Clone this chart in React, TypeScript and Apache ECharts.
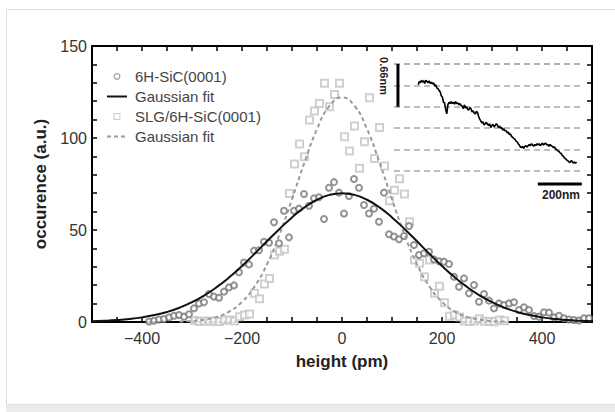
import React, { useEffect, useRef } from "react";
import * as echarts from "echarts";

const FONT = "'Liberation Sans', Arial, Helvetica, sans-serif";

// 6H-SiC(0001) histogram (height pm, occurrence)
const circleData: number[][] = [
  [-386, 0.3], [-376, 0.7], [-366, 1.4], [-356, 1.6], [-346, 2.5], [-336, 3.4], [-326, 3.8], [-316, 2.9],
  [-306, 4.2], [-296, 7.4], [-286, 10.1], [-276, 10.7], [-266, 15.2], [-256, 13.8], [-246, 13.2], [-236, 16.5],
  [-226, 18.8], [-216, 19.9], [-206, 27.0], [-196, 32.3], [-186, 31.3], [-176, 38.8], [-166, 39.0], [-156, 43.6],
  [-146, 43.1], [-136, 54.2], [-126, 42.8], [-116, 60.5], [-106, 46.0], [-96, 60.5], [-86, 61.6], [-76, 69.6],
  [-66, 63.2], [-56, 67.2], [-46, 67.8], [-36, 56.0], [-26, 73.0], [-16, 76.0], [-6, 70.3], [4, 59.0],
  [14, 68.5], [24, 77.7], [34, 73.0], [44, 63.6], [54, 59.0], [64, 61.6], [74, 54.5], [84, 70.3],
  [94, 47.7], [104, 46.5], [114, 45.0], [124, 46.7], [134, 52.2], [144, 41.8], [154, 36.4], [164, 37.3],
  [174, 38.2], [184, 34.0], [194, 33.0], [204, 32.8], [214, 31.5], [224, 24.6], [234, 19.2], [244, 23.7],
  [254, 15.6], [264, 20.1], [274, 11.0], [284, 15.2], [294, 11.6], [304, 7.4], [314, 10.1], [324, 9.2],
  [334, 10.1], [344, 10.7], [354, 6.5], [364, 8.0], [374, 6.5], [384, 3.3], [394, 2.9], [404, 5.3],
  [414, 5.1], [424, 2.5], [434, 3.4], [444, 2.0], [454, 1.4], [464, 1.1], [474, 0.8], [484, 2.0], [494, 2.0],
];

// SLG/6H-SiC(0001) histogram
const squareData: number[][] = [
  [-295, 0.8], [-285, 0.3], [-275, 0.5], [-265, 0.4], [-255, 0.6], [-245, 0.3], [-235, 1.1], [-225, 1.1],
  [-215, 0.6], [-205, 2.9], [-195, 3.8], [-185, 4.3], [-175, 15.6], [-165, 12.7], [-155, 20.6], [-145, 23.7],
  [-135, 36.4], [-125, 38.4], [-115, 39.5], [-105, 69.8], [-95, 85.9], [-85, 96.7], [-75, 89.8], [-65, 109.8],
  [-55, 114.7], [-45, 118.8], [-35, 129.7], [-25, 117.0], [-15, 123.7], [-5, 129.7], [5, 100.7], [15, 92.9],
  [25, 106.5], [35, 83.5], [45, 98.0], [55, 121.9], [65, 88.8], [75, 105.7], [85, 84.8], [95, 65.9],
  [105, 71.6], [115, 77.8], [125, 69.6], [135, 54.5], [145, 33.7], [155, 31.9], [165, 24.6], [175, 33.7],
  [185, 15.6], [195, 19.4], [205, 10.5], [215, 3.1], [225, 3.8], [235, 2.7], [245, 0.5], [255, 0.3],
  [265, 0.6], [275, 1.8], [285, 0.4], [295, 0.3], [305, 0.2], [315, 1.1], [325, 0.7],
];

// Gaussian fit curves
const fitSolidX = [-500, -475, -450, -425, -400, -375, -350, -325, -300, -275, -250, -225, -200, -175, -150, -125, -100, -75, -50, -25, 0,
  25, 50, 75, 100, 125, 150, 175, 200, 225, 250, 275, 300, 325, 350, 375, 400, 425, 450, 475, 500];
const fitSolidY = [0.39, 0.64, 1.03, 1.63, 2.51, 3.75, 5.47, 7.77, 10.75, 14.5, 19.06, 24.4, 30.47, 37.03, 43.86, 50.58, 56.85, 62.27, 66.45, 69.09, 70,
  69.09, 66.45, 62.27, 56.85, 50.58, 43.86, 37.03, 30.47, 24.4, 19.06, 14.5, 10.75, 7.77, 5.47, 3.75, 2.51, 1.63, 1.03, 0.64, 0.39];
const fitDashX = [-325, -300, -275, -250, -225, -200, -175, -150, -125, -100, -75, -50, -25, 0,
  25, 50, 75, 100, 125, 150, 175, 200, 225, 250, 275, 300, 325];
const fitDashY = [0.21, 0.53, 1.27, 2.8, 5.75, 10.93, 19.25, 31.33, 47.5, 66.71, 86.72, 104.87, 117.48, 122,
  117.48, 104.87, 86.72, 66.71, 47.5, 31.33, 19.25, 10.93, 5.75, 2.8, 1.27, 0.53, 0.21];

// Inset: AFM line profile (lateral nm, height nm)
const profileX = [110, 115, 120, 125, 130, 135, 140, 145, 150, 155, 160, 165, 170, 175, 180, 185, 190, 195, 200, 205,
  210, 215, 220, 225, 230, 235, 240, 245, 250, 255, 260, 265, 270, 275, 280, 285, 290, 295, 300, 305,
  310, 315, 320, 325, 330, 335, 340, 345, 350, 355, 360, 365, 370, 375, 380, 385, 390, 395, 400, 405,
  410, 415, 420, 425, 430, 435, 440, 445, 450, 455, 460, 465, 470, 475, 480, 485, 490, 495, 500, 505,
  510, 515, 520, 525, 530, 535, 540, 545, 550, 555, 560, 565, 570, 575, 580, 585, 590, 595, 600, 605,
  610, 615, 620, 625, 630, 635, 640, 645, 650, 655, 660, 665, 670, 675, 680, 685, 690, 695, 700, 705,
  710, 715, 720, 725, 730, 735, 740, 745, 750, 755, 760, 765, 770, 775, 780, 785, 790, 795, 800, 805,
  810, 815, 820, 825, 830];
const profileH = [1.33, 1.38, 1.36, 1.40, 1.37, 1.39, 1.35, 1.40, 1.38, 1.36, 1.39, 1.35, 1.37, 1.34, 1.36, 1.31, 1.33, 1.28, 1.27, 1.24,
  1.22, 1.16, 1.14, 1.06, 1.05, 0.95, 0.88, 1.02, 1.06, 1.04, 1.07, 1.04, 1.06, 1.03, 1.07, 1.04, 1.05, 1.02, 1.04, 1.01,
  1.00, 0.96, 1.02, 0.97, 0.99, 0.95, 0.94, 0.98, 0.96, 0.91, 0.93, 0.89, 0.88, 0.92, 0.90, 0.84, 0.80, 0.77, 0.74, 0.76,
  0.71, 0.73, 0.75, 0.72, 0.70, 0.73, 0.67, 0.70, 0.72, 0.68, 0.70, 0.73, 0.71, 0.67, 0.69, 0.66, 0.67, 0.63, 0.65, 0.62,
  0.62, 0.59, 0.60, 0.56, 0.57, 0.53, 0.52, 0.50, 0.49, 0.46, 0.45, 0.42, 0.40, 0.37, 0.36, 0.38, 0.35, 0.38, 0.39, 0.37,
  0.39, 0.41, 0.39, 0.42, 0.40, 0.38, 0.41, 0.39, 0.42, 0.40, 0.42, 0.39, 0.41, 0.43, 0.40, 0.42, 0.43, 0.40, 0.41, 0.38,
  0.41, 0.39, 0.38, 0.36, 0.37, 0.34, 0.33, 0.31, 0.30, 0.28, 0.27, 0.24, 0.23, 0.20, 0.19, 0.17, 0.16, 0.14, 0.13, 0.16,
  0.15, 0.12, 0.14, 0.12, 0.14];
const stepNm = 0.33;
const terraceLevels = 5; // 0 .. 5*0.33 nm
const heightBar = [[18, 1.65], [18, 0.99]];
const lengthBar = [[654, -0.2], [854, -0.2]];

const xLabels = [-400, -200, 0, 200, 400];
const yLabels = [0, 50, 100, 150];

const zip = (xs: number[], ys: number[]) => xs.map((x, i) => [x, ys[i]]);

export default function App() {
  const ref = useRef<HTMLDivElement>(null);
  useEffect(() => {
    if (!ref.current) return;
    const chart = echarts.init(ref.current, null, { renderer: "svg" });
    const axisLine = { show: true, onZero: false, lineStyle: { color: "#000", width: 2 } };
    const tick = (len: number) => ({ show: true, inside: true, length: len, lineStyle: { color: "#000", width: 1.5 } });
    chart.setOption({
      animation: false,
      textStyle: { fontFamily: FONT },
      grid: [
        { left: 92, top: 46, width: 500, height: 276 },
        { left: 394, top: 64, width: 190, height: 107 },
      ],
      legend: {
        orient: "vertical",
        left: 101,
        top: 64,
        itemWidth: 20,
        itemHeight: 7,
        itemGap: 5,
        textStyle: { fontSize: 15, color: "#444", fontFamily: FONT, padding: [0, 0, 0, 3] },
        data: [
          { name: "6H-SiC(0001)", icon: "path://M5,0A5,5 0 1,1 4.99,0Z M5,1.8A3.2,3.2 0 1,0 5.01,1.8Z", itemStyle: { borderWidth: 0, color: "#888" } },
          { name: "Gaussian fit", itemStyle: { opacity: 0 } },
          { name: "SLG/6H-SiC(0001)", icon: "path://M0,0H10V10H0Z M1.6,1.6V8.4H8.4V1.6Z", itemStyle: { borderWidth: 0 } },
          { name: "Gaussian fit ", itemStyle: { opacity: 0 } },
        ],
      },
      xAxis: [
        {
          type: "value", gridIndex: 0, min: -500, max: 500, interval: 50,
          name: "height (pm)", nameLocation: "middle", nameGap: 31,
          nameTextStyle: { fontSize: 17, fontWeight: "bold", color: "#222", fontFamily: FONT },
          axisLine, axisTick: tick(5), splitLine: { show: false },
          axisLabel: {
            fontSize: 16, color: "#333", margin: 8, fontFamily: FONT,
            formatter: (v: number) => (xLabels.includes(v) ? (v < 0 ? "\u2212" + -v : String(v)) : ""),
          },
        },
        {
          type: "value", gridIndex: 0, position: "top", min: -500, max: 500, interval: 50,
          axisLine, axisTick: tick(5), axisLabel: { show: false }, splitLine: { show: false },
        },
        { type: "value", gridIndex: 1, min: 0, max: 864, show: false, splitLine: { show: false } },
      ],
      yAxis: [
        {
          type: "value", gridIndex: 0, min: 0, max: 150, interval: 10,
          name: "occurence (a.u.)", nameLocation: "middle", nameGap: 32, nameRotate: 90,
          nameTextStyle: { fontSize: 17, fontWeight: "bold", color: "#222", fontFamily: FONT },
          axisLine, axisTick: tick(5), splitLine: { show: false },
          axisLabel: {
            fontSize: 16, color: "#333", margin: 5, fontFamily: FONT,
            formatter: (v: number) => (yLabels.includes(v) ? String(v) : ""),
          },
        },
        {
          type: "value", gridIndex: 0, position: "right", min: 0, max: 150, interval: 10,
          axisLine, axisTick: tick(5), axisLabel: { show: false }, splitLine: { show: false },
        },
        {
          type: "value", gridIndex: 1, min: 0, max: stepNm * terraceLevels, interval: stepNm,
          axisLine: { show: false }, axisTick: { show: false }, axisLabel: { show: false },
          splitLine: { show: true, lineStyle: { color: "#aaa", width: 1.5, type: [6, 4] } },
        },
      ],
      series: [
        {
          name: "SLG/6H-SiC(0001)", type: "scatter", xAxisIndex: 0, yAxisIndex: 0,
          data: squareData, symbol: "emptyRect", symbolSize: 7,
          itemStyle: { color: "#c4c4c4", borderColor: "#c4c4c4", borderWidth: 1.3 }, z: 2,
        },
        {
          name: "6H-SiC(0001)", type: "scatter", xAxisIndex: 0, yAxisIndex: 0,
          data: circleData, symbol: "emptyCircle", symbolSize: 6,
          itemStyle: { color: "#777", borderColor: "#777", borderWidth: 1.1 }, z: 3,
        },
        {
          name: "Gaussian fit ", type: "line", xAxisIndex: 0, yAxisIndex: 0,
          data: zip(fitDashX, fitDashY), smooth: true, symbol: "none", showSymbol: false,
          lineStyle: { color: "#9a9a9a", width: 2, type: [4, 3] }, itemStyle: { color: "#9a9a9a" }, z: 4,
        },
        {
          name: "Gaussian fit", type: "line", xAxisIndex: 0, yAxisIndex: 0,
          data: zip(fitSolidX, fitSolidY), smooth: true, symbol: "none", showSymbol: false,
          lineStyle: { color: "#111", width: 2 }, itemStyle: { color: "#111" }, z: 5,
        },
        {
          name: "profile", type: "line", xAxisIndex: 2, yAxisIndex: 2,
          data: zip(profileX, profileH), symbol: "none", showSymbol: false, silent: true,
          lineStyle: { color: "#000", width: 1.6 }, z: 6,
        },
        {
          name: "heightBar", type: "line", xAxisIndex: 2, yAxisIndex: 2, data: heightBar, clip: false,
          symbol: "none", silent: true, lineStyle: { color: "#000", width: 3 }, z: 6,
        },
        {
          name: "lengthBar", type: "line", xAxisIndex: 2, yAxisIndex: 2, data: lengthBar, clip: false,
          symbol: "none", silent: true, lineStyle: { color: "#000", width: 3 }, z: 6,
        },
      ],
      graphic: [
        {
          type: "text", x: 384, y: 76, rotation: -Math.PI / 2,
          style: { text: "0.66nm", fontSize: 11, fontWeight: "bold", fill: "#222", fontFamily: FONT, align: "center", verticalAlign: "middle" },
        },
        {
          type: "text", x: 561, y: 195,
          style: { text: "200nm", fontSize: 12, fontWeight: "bold", fill: "#222", fontFamily: FONT, align: "center", verticalAlign: "middle" },
        },
      ],
    });
    return () => chart.dispose();
  }, []);

  return (
    <div style={{ position: "fixed", left: 0, top: 0, width: 615, height: 412, background: "#fff", overflow: "hidden" }}>
      <div style={{ position: "absolute", left: 6, top: 9, width: 700, height: 396, border: "1px solid #ddd", boxSizing: "border-box" }} />
      <div style={{ position: "absolute", left: 6, top: 405, width: 700, height: 7, background: "#ececec" }} />
      <div ref={ref} style={{ position: "absolute", left: 0, top: 0, width: 615, height: 412 }} />
    </div>
  );
}
